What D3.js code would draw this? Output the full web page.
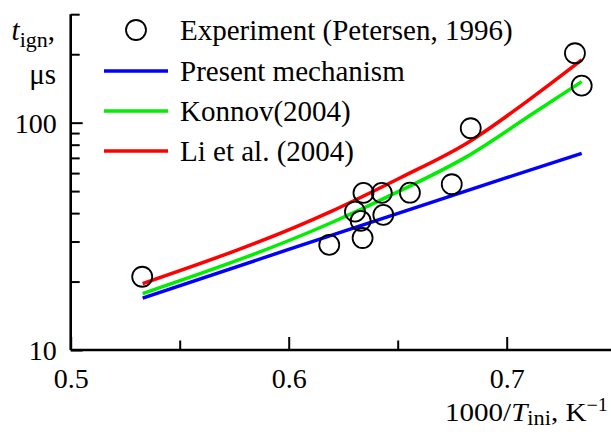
<!DOCTYPE html>
<html>
<head>
<meta charset="utf-8">
<script src="https://cdn.jsdelivr.net/npm/d3@7"></script>
<style>
  html, body { margin: 0; padding: 0; background: #fff; }
  svg { display: block; }
  svg text { font-family: "Liberation Serif", "Tinos", "Times New Roman", "DejaVu Serif", serif; }
</style>
</head>
<body>
<svg id="chart" width="611" height="432"></svg>
<script>
// Ignition delay vs inverse initial temperature
const expX = [0.5328, 0.6186, 0.6304, 0.6330, 0.6339, 0.6343, 0.6427, 0.6434, 0.6556, 0.6748, 0.6835, 0.7313, 0.7344];
const expT = [21.0, 29.0, 40.6, 37.0, 31.1, 49.1, 49.1, 39.3, 49.2, 53.6, 94.5, 202, 145.5];

const presentX = [0.533, 0.600, 0.700, 0.7344];
const presentT = [16.9, 27.7, 57.3, 73.3];

const konnovX = [0.533, 0.6190, 0.6510, 0.6817, 0.7122, 0.7344];
const konnovT = [17.7, 36.1, 50.1, 70.9, 110.0, 151.5];

const liX = [0.533, 0.6190, 0.6510, 0.6817, 0.7122, 0.7344];
const liT = [19.6, 40.5, 57.1, 81.2, 130.1, 188.7];

const xMajor = [0.5, 0.6, 0.7];
const xMinor = [0.55, 0.65];
const yMajor = [10, 100];
const yMinor = [20, 30, 40, 50, 60, 70, 80, 90, 200, 300];

const legendLabels = ["Experiment (Petersen, 1996)", "Present mechanism", "Konnov(2004)", "Li et al. (2004)"];
const colors = { present: "#0000ff", konnov: "#00ee00", li: "#ff0000" };

const serif = "'Liberation Serif', 'Tinos', 'Times New Roman', 'DejaVu Serif', serif";

const svg = d3.select("#chart");
const plotLeft = 70.7, plotRight = 611, plotTop = 14.2, plotBottom = 350;

const x = d3.scaleLinear().domain([0.5, 0.5 + (plotRight - plotLeft) / 2180]).range([plotLeft, plotRight]);
const y = d3.scaleLog().domain([10, 300]).range([plotBottom, plotTop]);

// Curves
const line = d3.line().x(d => x(d[0])).y(d => y(d[1])).curve(d3.curveMonotoneX);
const series = [
  { xs: presentX, ts: presentT, c: colors.present },
  { xs: konnovX, ts: konnovT, c: colors.konnov },
  { xs: liX, ts: liT, c: colors.li }
];
series.forEach(s => {
  svg.append("path")
    .datum(s.xs.map((v, i) => [v, s.ts[i]]))
    .attr("d", line)
    .attr("fill", "none")
    .attr("stroke", s.c)
    .attr("stroke-width", 3.5);
});

// Experimental points
svg.append("g").selectAll("circle")
  .data(expX.map((v, i) => [v, expT[i]]))
  .join("circle")
  .attr("cx", d => x(d[0]))
  .attr("cy", d => y(d[1]))
  .attr("r", 10)
  .attr("fill", "none")
  .attr("stroke", "#000")
  .attr("stroke-width", 1.8);

// Axes with inward ticks
const xAxis = d3.axisBottom(x)
  .tickValues(xMajor.concat(xMinor))
  .tickSize(-13)
  .tickPadding(18)
  .tickFormat(d => xMajor.includes(d) ? d3.format(".1f")(d) : "");
const gx = svg.append("g").attr("transform", `translate(0,${plotBottom})`).call(xAxis);
gx.selectAll(".tick").filter(d => xMinor.includes(d)).select("line").attr("y2", -9.5);

const yAxis = d3.axisLeft(y)
  .tickValues(yMajor.concat(yMinor))
  .tickSize(-12)
  .tickPadding(14)
  .tickFormat(d => yMajor.includes(d) ? String(d) : "");
const gy = svg.append("g").attr("transform", `translate(${plotLeft},0)`).call(yAxis);
gy.selectAll(".tick").filter(d => yMinor.includes(d)).select("line").attr("x2", 9);

[gx, gy].forEach(g => {
  g.attr("font-family", serif).attr("font-size", 28);
  g.select(".domain").attr("stroke", "#000").attr("stroke-width", 2.6);
  g.selectAll(".tick line").attr("stroke", "#000").attr("stroke-width", 2);
  g.selectAll(".tick text").attr("fill", "#000");
});
gx.selectAll(".tick text").attr("dy", "0.71em");
gy.selectAll(".tick text").attr("dy", "0.34em");
// Domain paths without outer ticks
gx.select(".domain").attr("d", `M${plotLeft},0H${plotRight}`);
gy.select(".domain").attr("d", `M0,${plotBottom}V${plotTop}`);

// Legend
const lg = svg.append("g").attr("font-size", 29).attr("fill", "#000");
const rowY = [30, 71, 111, 151];
lg.append("circle").attr("cx", 136).attr("cy", rowY[0]).attr("r", 10)
  .attr("fill", "none").attr("stroke", "#000").attr("stroke-width", 1.8);
[colors.present, colors.konnov, colors.li].forEach((c, i) => {
  lg.append("line").attr("x1", 104).attr("x2", 168)
    .attr("y1", rowY[i + 1]).attr("y2", rowY[i + 1])
    .attr("stroke", c).attr("stroke-width", 3.5);
});
legendLabels.forEach((t, i) => {
  lg.append("text").attr("x", 180).attr("y", rowY[i] + 9.5).text(t);
});

// Axis titles
const yt = svg.append("g").attr("font-size", 29).attr("fill", "#000");
const ytText = yt.append("text").attr("x", 55).attr("y", 40).attr("text-anchor", "end");
ytText.append("tspan").style("font-style", "italic").text("t");
ytText.append("tspan").attr("dy", 7).attr("font-size", 22).text("ign");
ytText.append("tspan").attr("dy", -7).text(",");
yt.append("text").attr("x", 56).attr("y", 84).attr("text-anchor", "end").text("μs");

const xt = svg.append("text").attr("font-size", 26).attr("fill", "#000");
xt.append("tspan").text("1000/");
xt.append("tspan").style("font-style", "italic").text("T");
xt.append("tspan").attr("dy", 4).attr("font-size", 20).text("ini");
xt.append("tspan").attr("dy", -4).text(", K");
xt.append("tspan").attr("dy", -10).attr("font-size", 18).text("−1");
// Stretch the title horizontally so it spans from x=445 to the right edge
const xtWidth = xt.node().getComputedTextLength();
const xtScale = (608 - 445) / xtWidth;
xt.attr("transform", `translate(445,421) scale(${xtScale},1)`);
</script>
</body>
</html>
